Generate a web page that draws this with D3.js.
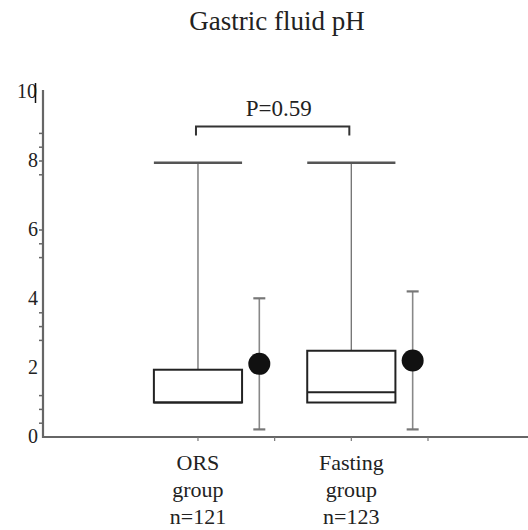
<!DOCTYPE html>
<html>
<head>
<meta charset="utf-8">
<script src="https://cdn.jsdelivr.net/npm/d3@7"></script>
<style>
  body { margin: 0; background: #fff; }
  svg text { font-family: "Liberation Serif", "DejaVu Serif", serif; fill: #222; }
</style>
</head>
<body>
<svg id="chart" width="528" height="530"></svg>
<script>
// data
var groups = ["ORS", "Fasting"];
var groupLines = [["ORS", "group", "n=121"], ["Fasting", "group", "n=123"]];
var whiskerHigh = [7.95, 7.95];
var q3 = [1.95, 2.5];
var median = [1.0, 1.3];
var q1 = [1.0, 1.0];
var means = [2.12, 2.22];
var sds = [1.9, 2.0];
var yLabels = [0, 2, 4, 6, 8, 10];
var yMinor = [0.4, 0.8, 1.2, 2.8, 3.2, 3.6, 5.2, 5.6, 6.0, 7.6, 8.0, 8.4, 8.8];
var xTicks = [1, 2, 3, 4];
var pText = "P=0.59";
var bracketValue = 9.0;

drawChart();

function drawChart() {
  var svg = d3.select("#chart");
  svg.selectAll("*").remove();

  var x = d3.scaleLinear().domain([0, 4]).range([121.3, 428]);
  var y = d3.scaleLinear().domain([0, 10]).range([437, 92]);
  var boxHalf = 0.575, sdOffset = 0.8, sdCap = 6;

  // title
  svg.append("text")
      .attr("x", 277).attr("y", 30)
      .attr("text-anchor", "middle")
      .style("font-size", "27px")
      .text("Gastric fluid pH");

  // y axis
  svg.append("line")
      .attr("x1", 43).attr("x2", 43)
      .attr("y1", 90).attr("y2", y(0) + 1)
      .attr("stroke", "#666").attr("stroke-width", 2.2);

  svg.selectAll(".ytick").data(yMinor).enter().append("line")
      .attr("class", "ytick")
      .attr("x1", 39).attr("x2", 43)
      .attr("y1", function(d) { return y(d); })
      .attr("y2", function(d) { return y(d); })
      .attr("stroke", "#666").attr("stroke-width", 1.5);

  svg.selectAll(".ylab").data(yLabels).enter().append("text")
      .attr("class", "ylab")
      .attr("x", function(d) { return d == 10 ? 37 : 38; })
      .attr("y", function(d) { return y(d); })
      .attr("dy", "0.3em")
      .attr("text-anchor", "end")
      .style("font-size", "20px")
      .text(function(d) { return d; });

  // the stray mark across the "10"
  svg.append("line")
      .attr("x1", 35.5).attr("x2", 35.5)
      .attr("y1", y(10) - 9).attr("y2", y(10) + 11)
      .attr("stroke", "#111").attr("stroke-width", 1.5);

  // x axis
  svg.append("line")
      .attr("x1", 42).attr("x2", 528)
      .attr("y1", y(0)).attr("y2", y(0))
      .attr("stroke", "#666").attr("stroke-width", 2.2);

  svg.selectAll(".xtick").data(xTicks).enter().append("line")
      .attr("class", "xtick")
      .attr("x1", function(d) { return x(d); })
      .attr("x2", function(d) { return x(d); })
      .attr("y1", y(0)).attr("y2", y(0) + 4)
      .attr("stroke", "#777").attr("stroke-width", 1.2);

  var idx = d3.range(groups.length);
  var cx = function(i) { return x(1 + 2 * i); };

  // upper whiskers
  svg.selectAll(".whisk").data(idx).enter().append("line")
      .attr("x1", cx).attr("x2", cx)
      .attr("y1", function(i) { return y(whiskerHigh[i]); })
      .attr("y2", function(i) { return y(q3[i]); })
      .attr("stroke", "#777").attr("stroke-width", 1.4);

  svg.selectAll(".cap").data(idx).enter().append("line")
      .attr("x1", function(i) { return x(1 + 2 * i - boxHalf); })
      .attr("x2", function(i) { return x(1 + 2 * i + boxHalf); })
      .attr("y1", function(i) { return y(whiskerHigh[i]); })
      .attr("y2", function(i) { return y(whiskerHigh[i]); })
      .attr("stroke", "#555").attr("stroke-width", 2.5);

  // boxes
  svg.selectAll(".box").data(idx).enter().append("rect")
      .attr("x", function(i) { return x(1 + 2 * i - boxHalf); })
      .attr("width", function(i) { return x(1 + 2 * i + boxHalf) - x(1 + 2 * i - boxHalf); })
      .attr("y", function(i) { return y(q3[i]); })
      .attr("height", function(i) { return y(q1[i]) - y(q3[i]); })
      .attr("fill", "#fff").attr("stroke", "#222").attr("stroke-width", 2);

  svg.selectAll(".med").data(idx).enter().append("line")
      .attr("x1", function(i) { return x(1 + 2 * i - boxHalf); })
      .attr("x2", function(i) { return x(1 + 2 * i + boxHalf); })
      .attr("y1", function(i) { return y(median[i]); })
      .attr("y2", function(i) { return y(median[i]); })
      .attr("stroke", "#222").attr("stroke-width", 2);

  // mean +- sd
  var sx = function(i) { return x(1 + 2 * i + sdOffset); };
  svg.selectAll(".sd").data(idx).enter().append("line")
      .attr("x1", sx).attr("x2", sx)
      .attr("y1", function(i) { return y(means[i] + sds[i]); })
      .attr("y2", function(i) { return y(means[i] - sds[i]); })
      .attr("stroke", "#888").attr("stroke-width", 1.6);

  [1, -1].forEach(function(s) {
    svg.selectAll(".sdcap" + s).data(idx).enter().append("line")
        .attr("x1", function(i) { return sx(i) - sdCap; })
        .attr("x2", function(i) { return sx(i) + sdCap; })
        .attr("y1", function(i) { return y(means[i] + s * sds[i]); })
        .attr("y2", function(i) { return y(means[i] + s * sds[i]); })
        .attr("stroke", "#777").attr("stroke-width", 2.2);
  });

  svg.selectAll(".mean").data(idx).enter().append("circle")
      .attr("cx", sx)
      .attr("cy", function(i) { return y(means[i]); })
      .attr("r", 11)
      .attr("fill", "#111");

  // p-value bracket
  var by = y(bracketValue);
  svg.append("path")
      .attr("d", "M" + (cx(0) - 2) + "," + (by + 9) + "V" + by + "H" + (cx(1) - 2) + "V" + (by + 9))
      .attr("fill", "none").attr("stroke", "#333").attr("stroke-width", 2);

  svg.append("text")
      .attr("x", (cx(0) + cx(1)) / 2 + 4).attr("y", by - 11)
      .attr("text-anchor", "middle")
      .style("font-size", "23px")
      .text(pText);

  // category labels
  groupLines.forEach(function(lines, i) {
    var t = svg.append("text")
        .attr("x", cx(i)).attr("y", 470)
        .attr("text-anchor", "middle")
        .style("font-size", "22px");
    lines.forEach(function(l, k) {
      t.append("tspan").attr("x", cx(i)).attr("dy", k == 0 ? 0 : 27).text(l);
    });
  });
}
</script>
</body>
</html>
